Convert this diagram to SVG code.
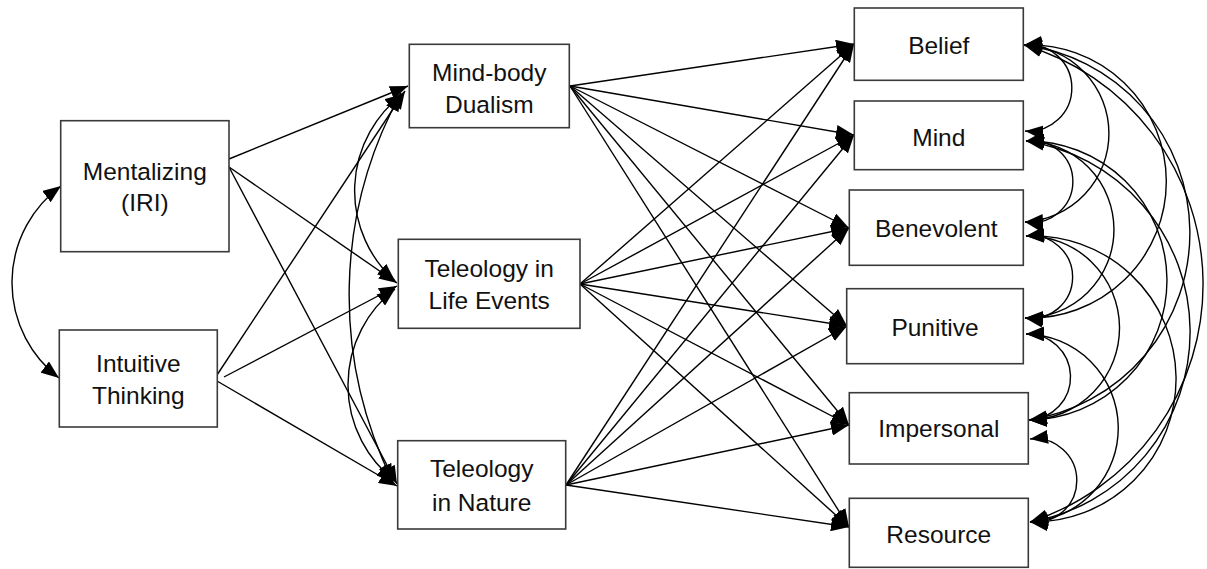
<svg xmlns="http://www.w3.org/2000/svg" width="1207" height="569" viewBox="0 0 1207 569">
<style>
.box{fill:#fff;stroke:#3a3a3a;stroke-width:1.6}
.lbl{font-family:"Liberation Sans",Arial,sans-serif;font-size:24.5px;fill:#111;text-anchor:middle}
.c{fill:none;stroke:#000;stroke-width:1.4}
.a{marker-end:url(#ah)}
.d{marker-start:url(#ah);marker-end:url(#ah)}
</style>
<defs>
<marker id="ah" markerUnits="userSpaceOnUse" markerWidth="18" markerHeight="14" refX="18" refY="7" orient="auto-start-reverse" viewBox="0 0 18 14">
<path d="M0,0 L18,7 L0,14 z" fill="#000"/>
</marker>
</defs>
<rect width="1207" height="569" fill="#fff"/>
<g id="connectors">
<path class="c d" d="M61,186 A120,120 0 0 0 59,378"/>
<path class="c a" d="M229,159 L408,86"/>
<path class="c a" d="M229,167 L397,283"/>
<path class="c a" d="M229,167 L397,484"/>
<path class="c a" d="M217,375 L405,91"/>
<path class="c a" d="M224,377 L397,286"/>
<path class="c a" d="M217,381 L397,486"/>
<path class="c d" d="M403,94 A121,121 0 0 0 395,281"/>
<path class="c d" d="M395,289 A121.5,121.5 0 0 0 395,481"/>
<path class="c d" d="M401,93 A420,420 0 0 0 393,482"/>
<path class="c a" d="M570,86 L854,44"/>
<path class="c a" d="M570,86 L854,135"/>
<path class="c a" d="M570,86 L849,228"/>
<path class="c a" d="M570,86 L847,326"/>
<path class="c a" d="M570,86 L849,425"/>
<path class="c a" d="M570,86 L849,527"/>
<path class="c a" d="M580,284 L854,44"/>
<path class="c a" d="M580,284 L854,135"/>
<path class="c a" d="M580,284 L849,228"/>
<path class="c a" d="M580,284 L847,326"/>
<path class="c a" d="M580,284 L849,425"/>
<path class="c a" d="M580,284 L849,527"/>
<path class="c a" d="M566,485 L854,44"/>
<path class="c a" d="M566,485 L854,135"/>
<path class="c a" d="M566,485 L849,228"/>
<path class="c a" d="M566,485 L847,326"/>
<path class="c a" d="M566,485 L849,425"/>
<path class="c a" d="M566,485 L849,527"/>
<path class="c d" d="M1024,45 A43.2,43.2 0 1 1 1025,131"/>
<path class="c d" d="M1024,45 A88.6,88.6 0 0 1 1025,222"/>
<path class="c d" d="M1024,45 A136.6,136.6 0 1 1 1025,318"/>
<path class="c d" d="M1024,45 A189.3,189.3 0 0 1 1029,420"/>
<path class="c d" d="M1024,45 A249.6,249.6 0 0 1 1030,522"/>
<path class="c d" d="M1026,141 A41,41 0 1 1 1025,222"/>
<path class="c d" d="M1026,141 A88.5,88.5 0 0 1 1025,318"/>
<path class="c d" d="M1026,141 A139.5,139.5 0 0 1 1029,420"/>
<path class="c d" d="M1026,141 A193,193 0 0 1 1030,522"/>
<path class="c d" d="M1026,236 A41.4,41.4 0 1 1 1025,318"/>
<path class="c d" d="M1026,236 A92,92 0 0 1 1029,420"/>
<path class="c d" d="M1026,236 A143.1,143.1 0 1 1 1030,522"/>
<path class="c d" d="M1026,334 A43,43 0 1 1 1029,420"/>
<path class="c d" d="M1026,334 A94.1,94.1 0 0 1 1030,522"/>
<path class="c d" d="M1030,439 A41.8,41.8 0 1 1 1030,522"/>
</g>
<g id="mentalizing"><rect class="box" x="60.7" y="120.7" width="168.3" height="131"/><text class="lbl" x="144.8" y="180">Mentalizing</text><text class="lbl" x="144.8" y="211">(IRI)</text></g>
<g id="intuitive"><rect class="box" x="59.3" y="330" width="158" height="97"/><text class="lbl" x="138.3" y="371.5">Intuitive</text><text class="lbl" x="138.3" y="403.5">Thinking</text></g>
<g id="mindbody"><rect class="box" x="409.3" y="44.3" width="160" height="83.4"/><text class="lbl" x="489.3" y="80.7">Mind-body</text><text class="lbl" x="489.3" y="112.7">Dualism</text></g>
<g id="lifeevents"><rect class="box" x="398.3" y="239.3" width="181.7" height="89"/><text class="lbl" x="489.2" y="276.7">Teleology in</text><text class="lbl" x="489.2" y="309">Life Events</text></g>
<g id="nature"><rect class="box" x="397.7" y="440.7" width="168" height="88.3"/><text class="lbl" x="481.7" y="477.3">Teleology</text><text class="lbl" x="481.7" y="510.7">in Nature</text></g>
<g id="belief"><rect class="box" x="854.3" y="8" width="169" height="72.3"/><text class="lbl" x="938.8" y="54">Belief</text></g>
<g id="mind"><rect class="box" x="854.3" y="101" width="169" height="68.7"/><text class="lbl" x="938.8" y="145.5">Mind</text></g>
<g id="benevolent"><rect class="box" x="849.3" y="190" width="174" height="75.3"/><text class="lbl" x="936.3" y="237.3">Benevolent</text></g>
<g id="punitive"><rect class="box" x="846.7" y="288.7" width="176.6" height="75"/><text class="lbl" x="935" y="335.7">Punitive</text></g>
<g id="impersonal"><rect class="box" x="849.3" y="392.7" width="179" height="71.3"/><text class="lbl" x="938.8" y="436.7">Impersonal</text></g>
<g id="resource"><rect class="box" x="849.3" y="498.3" width="179" height="69"/><text class="lbl" x="938.8" y="543.3">Resource</text></g>
</svg>
